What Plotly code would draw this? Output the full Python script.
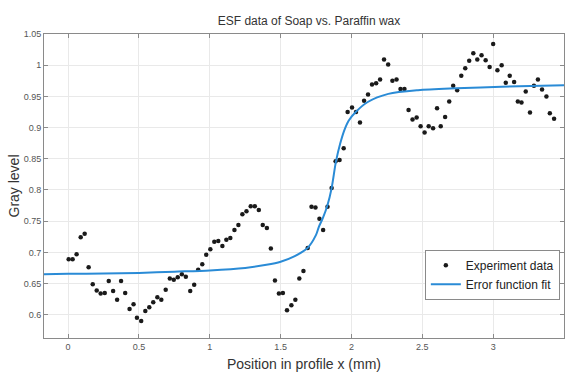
import plotly.graph_objects as go

# Measured edge-spread-function samples (position in mm, gray level)
pos_mm = [
    0.004, 0.032, 0.060, 0.089, 0.117, 0.145, 0.174, 0.202, 0.230, 0.259,
    0.287, 0.318, 0.346, 0.374, 0.403, 0.434, 0.462, 0.486, 0.516, 0.545,
    0.573, 0.601, 0.630, 0.658, 0.689, 0.718, 0.746, 0.774, 0.803, 0.831,
    0.862, 0.890, 0.918, 0.947, 0.975, 1.004, 1.032, 1.060, 1.089, 1.117,
    1.145, 1.174, 1.202, 1.230, 1.259, 1.289, 1.318, 1.346, 1.374, 1.403,
    1.431, 1.460, 1.488, 1.516, 1.545, 1.576, 1.604, 1.632, 1.661, 1.691,
    1.718, 1.746, 1.774, 1.800, 1.831, 1.860, 1.888, 1.916, 1.945, 1.973,
    2.004, 2.032, 2.060, 2.089, 2.117, 2.145, 2.174, 2.202, 2.230, 2.259,
    2.289, 2.318, 2.346, 2.374, 2.403, 2.431, 2.460, 2.488, 2.516, 2.545,
    2.576, 2.604, 2.630, 2.661, 2.690, 2.718, 2.746, 2.775, 2.803, 2.831,
    2.860, 2.888, 2.918, 2.947, 2.975, 3.000, 3.030, 3.060, 3.089, 3.117,
    3.148, 3.174, 3.200, 3.230, 3.260, 3.288, 3.316, 3.345, 3.376, 3.400,
    3.430,
]
gray = [
    0.689, 0.689, 0.697, 0.724, 0.730, 0.676, 0.649, 0.639, 0.634, 0.635,
    0.654, 0.638, 0.624, 0.654, 0.635, 0.609, 0.617, 0.595, 0.590, 0.606,
    0.612, 0.620, 0.628, 0.624, 0.640, 0.658, 0.656, 0.660, 0.665, 0.661,
    0.638, 0.648, 0.672, 0.681, 0.696, 0.705, 0.717, 0.718, 0.710, 0.720,
    0.723, 0.736, 0.744, 0.761, 0.766, 0.774, 0.774, 0.768, 0.744, 0.739,
    0.706, 0.655, 0.634, 0.635, 0.607, 0.615, 0.624, 0.658, 0.670, 0.707,
    0.773, 0.772, 0.754, 0.736, 0.773, 0.803, 0.846, 0.848, 0.867, 0.925,
    0.932, 0.925, 0.908, 0.943, 0.953, 0.969, 0.971, 0.977, 1.009, 1.001,
    0.975, 0.977, 0.962, 0.962, 0.928, 0.913, 0.916, 0.902, 0.892, 0.902,
    0.899, 0.931, 0.902, 0.917, 0.942, 0.967, 0.960, 0.983, 0.995, 1.007,
    1.019, 1.009, 1.016, 1.008, 0.997, 1.034, 0.992, 1.000, 0.972, 0.983,
    0.973, 0.942, 0.940, 0.958, 0.924, 0.967, 0.977, 0.961, 0.950, 0.923,
    0.914,
]

# Fitted error-function curve, sampled along the profile
fit_x = [
    -0.17, 0.0, 0.25, 0.5, 0.75, 1.0, 1.25, 1.4, 1.5, 1.6,
    1.69, 1.75, 1.77, 1.80, 1.83, 1.86, 1.89, 1.92, 1.95, 1.98,
    2.03, 2.115, 2.26, 2.47, 2.74, 3.06, 3.5,
]
fit_y = [
    0.665, 0.6655, 0.666, 0.667, 0.669, 0.671, 0.675, 0.680, 0.685, 0.694,
    0.707, 0.728, 0.741, 0.756, 0.775, 0.803, 0.845, 0.874, 0.896, 0.911,
    0.925, 0.941, 0.954, 0.960, 0.963, 0.9655, 0.968,
]

x_ticks = [0, 0.5, 1, 1.5, 2, 2.5, 3, 3.5]
y_ticks = [0.6, 0.65, 0.7, 0.75, 0.8, 0.85, 0.9, 0.95, 1, 1.05]

FONT = "Liberation Sans Narrow, Arial Narrow, Liberation Sans, Arial, sans-serif"
GRID = "#e9e9e9"
AXIS = "#8a8a8a"

fig = go.Figure()
fig.add_trace(go.Scatter(
    x=pos_mm, y=gray, mode="markers", name="Experiment data",
    marker=dict(color="#1a1a1a", size=4.5),
))
fig.add_trace(go.Scatter(
    x=fit_x, y=fit_y, mode="lines", name="Error function fit",
    line=dict(color="#2a8bd6", width=2, shape="spline", smoothing=0.8),
))

axis_common = dict(
    showline=True, linecolor=AXIS, linewidth=1, mirror="ticks",
    ticks="inside", ticklen=4, tickcolor=AXIS,
    showgrid=True, gridcolor=GRID, gridwidth=1, zeroline=False,
    tickfont=dict(family=FONT, size=9, color="#555555"),
)

fig.update_xaxes(
    range=[-0.17, 3.5], tickvals=x_ticks,
    title=dict(text="Position in profile x (mm)", standoff=8,
               font=dict(family=FONT, size=14, color="#333333")),
    **axis_common,
)
fig.update_yaxes(
    range=[0.5627, 1.05], tickvals=y_ticks,
    title=dict(text="Gray level", standoff=0,
               font=dict(family=FONT, size=14, color="#333333")),
    **axis_common,
)

fig.update_layout(
    width=567, height=372,
    margin=dict(l=44, r=3, t=34, b=34),
    paper_bgcolor="white", plot_bgcolor="white",
    font=dict(family=FONT, color="#333333"),
    title=dict(text="ESF data of Soap vs. Paraffin wax", x=0.545, xanchor="center",
               y=0.944, yanchor="middle",
               font=dict(family=FONT, size=12, color="#333333")),
    showlegend=True,
    legend=dict(
        x=0.992, xanchor="right", y=0.29, yanchor="top",
        bgcolor="white", bordercolor=AXIS, borderwidth=1,
        font=dict(family=FONT, size=12, color="#222222"),
        itemwidth=30, tracegroupgap=0,
    ),
)

fig.write_html("out.html")
